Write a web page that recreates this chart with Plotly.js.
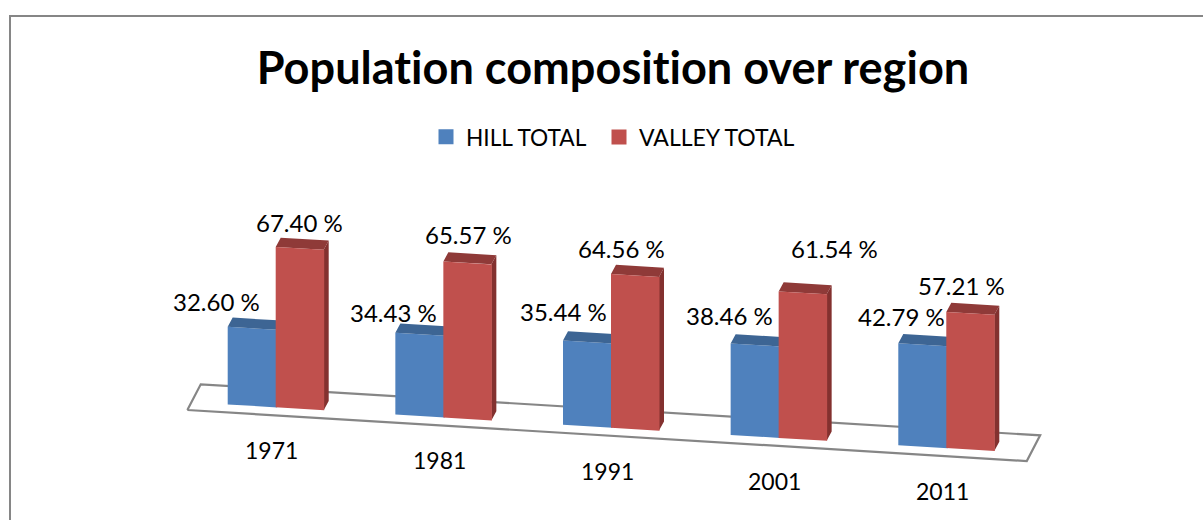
<!DOCTYPE html>
<html>
<head>
<meta charset="utf-8">
<script src="https://cdn.plot.ly/plotly-3.0.1.min.js"></script>
<style>html,body{margin:0;padding:0;background:#fff;overflow:hidden}#chart{width:1203px;height:520px;font-variant-ligatures:none}svg text{font-variant-ligatures:none !important;font-feature-settings:"liga" 0 !important}</style>
</head>
<body>
<div id="chart"></div>
<script>
// Data
var years = ['1971', '1981', '1991', '2001', '2011'];
var hillTotal = [32.60, 34.43, 35.44, 38.46, 42.79];
var valleyTotal = [67.40, 65.57, 64.56, 61.54, 57.21];
var seriesNames = ['HILL TOTAL', 'VALLEY TOTAL'];
var chartTitle = 'Population composition over region';

// Hand-placed data label offsets (px, relative to the top of each bar)
var hillLabelDx = [-35, -26, -24, -25, -21];
var hillLabelDy = [27, 22, 30, 29, 28];
var valleyLabelDx = [0, 1, -14, 32, -9];
var valleyLabelDy = [26, 28, 27, 44, 28];

// Pseudo-3D projection, in axis units
var W = 1203, H = 520;
var pxPerIndex = 167.65, pxPerUnit = 2.38;
var x0px = 275.7, y0px = 407.3;
var tilt = 167.65 * 0.0608 / pxPerUnit;   // floor drop, value units per category
var barW = 48 / pxPerIndex;
var seam = 1.5 / pxPerIndex;              // blue runs slightly under the red bar
var depthX = 5 / pxPerIndex, depthY = 9.2 / pxPerUnit;
var fontFam = 'Lato, Carlito, sans-serif';

function floorY(x) { return -tilt * x; }
function polys(faceFn, values) {
  var xs = [], ys = [];
  values.forEach(function (v, i) {
    faceFn(i, v).forEach(function (p) { xs.push(p[0]); ys.push(p[1]); });
    xs.push(null); ys.push(null);
  });
  return { x: xs, y: ys };
}
function front(off, w) {
  return function (i, v) {
    var a = i + off, b = a + w;
    return [[a, floorY(a)], [b, floorY(b)], [b, floorY(b) + v], [a, floorY(a) + v], [a, floorY(a)]];
  };
}
function top3d(off, w) {
  return function (i, v) {
    var a = i + off, b = a + w;
    return [[a, floorY(a) + v], [b, floorY(b) + v], [b + depthX, floorY(b) + v + depthY], [a + depthX, floorY(a) + v + depthY], [a, floorY(a) + v]];
  };
}
function side(off, w) {
  return function (i, v) {
    var b = i + off + w;
    return [[b, floorY(b)], [b + depthX, floorY(b) + depthY], [b + depthX, floorY(b) + v + depthY], [b, floorY(b) + v], [b, floorY(b)]];
  };
}
function face(fn, values, color, name) {
  var p = polys(fn, values);
  return { type: 'scatter', mode: 'lines', x: p.x, y: p.y, fill: 'toself', fillcolor: color,
    line: { width: 0, color: color }, name: name, showlegend: false, hoverinfo: 'skip' };
}

// Floor plate
var fl = -0.527, fr = 4.48, backDx = 13.4 / pxPerIndex, frontDrop = -3.4, backRise = 7.4;
var floorTrace = {
  type: 'scatter', mode: 'lines',
  x: [fl, fr, fr + backDx, fl + backDx, fl],
  y: [floorY(fl) + frontDrop, floorY(fr) + frontDrop, floorY(fr) + backRise, floorY(fl) + backRise, floorY(fl) + frontDrop],
  line: { color: '#868686', width: 2.2 }, showlegend: false, hoverinfo: 'skip', name: 'floor'
};

var blue = '#4f81bd', blueTop = '#3d6594', red = '#c0504d', redTop = '#8f3a38', redSide = '#83312f';
var traces = [
  floorTrace,
  face(front(-barW, barW + seam), hillTotal, blue, seriesNames[0]),
  face(top3d(-barW, barW + seam), hillTotal, blueTop, seriesNames[0]),
  face(top3d(0, barW), valleyTotal, redTop, seriesNames[1]),
  face(side(0, barW), valleyTotal, redSide, seriesNames[1]),
  face(front(0, barW + 0.5 / pxPerIndex), valleyTotal, red, seriesNames[1]),
  { type: 'scatter', mode: 'markers', x: [null], y: [null], name: seriesNames[0], marker: { symbol: 'square', size: 15, color: blue } },
  { type: 'scatter', mode: 'markers', x: [null], y: [null], name: seriesNames[1], legend: 'legend2', marker: { symbol: 'square', size: 15, color: red } }
];

// Data labels and staggered category labels
var annotations = [];
function addLabels(values, off, dxs, dys) {
  values.forEach(function (v, i) {
    var cx = i + off + barW / 2;
    annotations.push({ x: cx, y: floorY(cx) + v, xref: 'x', yref: 'y', text: v.toFixed(2) + ' %',
      showarrow: false, xanchor: 'center', yanchor: 'middle', xshift: dxs[i], yshift: dys[i],
      font: { family: fontFam, size: 24, color: '#000' } });
  });
}
addLabels(hillTotal, -barW, hillLabelDx, hillLabelDy);
addLabels(valleyTotal, 0, valleyLabelDx, valleyLabelDy);
years.forEach(function (yr, i) {
  annotations.push({ x: i, y: floorY(i), xref: 'x', yref: 'y', text: yr, showarrow: false,
    xanchor: 'center', yanchor: 'middle', xshift: -4, yshift: -43,
    font: { family: fontFam, size: 23, color: '#000' } });
});

var layout = {
  width: W, height: H,
  margin: { l: 0, r: 0, t: 0, b: 0, pad: 0 },
  paper_bgcolor: '#fff', plot_bgcolor: '#fff',
  title: { text: '<b>' + chartTitle + '</b>', x: 613 / W, xanchor: 'center', y: 1 - 68 / H, yanchor: 'middle',
    font: { family: fontFam, size: 45.1, color: '#000' } },
  xaxis: { visible: false, range: [(0 - x0px) / pxPerIndex, (W - x0px) / pxPerIndex], fixedrange: true },
  yaxis: { visible: false, range: [(y0px - H) / pxPerUnit, y0px / pxPerUnit], fixedrange: true },
  showlegend: true,
  legend: { orientation: 'h', x: 426 / W, xanchor: 'left', y: 1 - 137 / H, yanchor: 'middle',
    bgcolor: 'rgba(0,0,0,0)', borderwidth: 0,
    font: { family: fontFam, size: 22.7, color: '#000' } },
  legend2: { orientation: 'h', x: 599 / W, xanchor: 'left', y: 1 - 137 / H, yanchor: 'middle',
    bgcolor: 'rgba(0,0,0,0)', borderwidth: 0,
    font: { family: fontFam, size: 23, color: '#000' } },
  annotations: annotations,
  shapes: [
    { type: 'line', xref: 'paper', yref: 'paper', x0: 10 / W, x1: 1, y0: 1 - 16 / H, y1: 1 - 16 / H, line: { color: '#868686', width: 2 } },
    { type: 'line', xref: 'paper', yref: 'paper', x0: 10 / W, x1: 10 / W, y0: 1 - 15 / H, y1: 0, line: { color: '#868686', width: 2 } }
  ]
};
Plotly.newPlot('chart', traces, layout, { displayModeBar: false, staticPlot: true });
</script>
</body>
</html>
